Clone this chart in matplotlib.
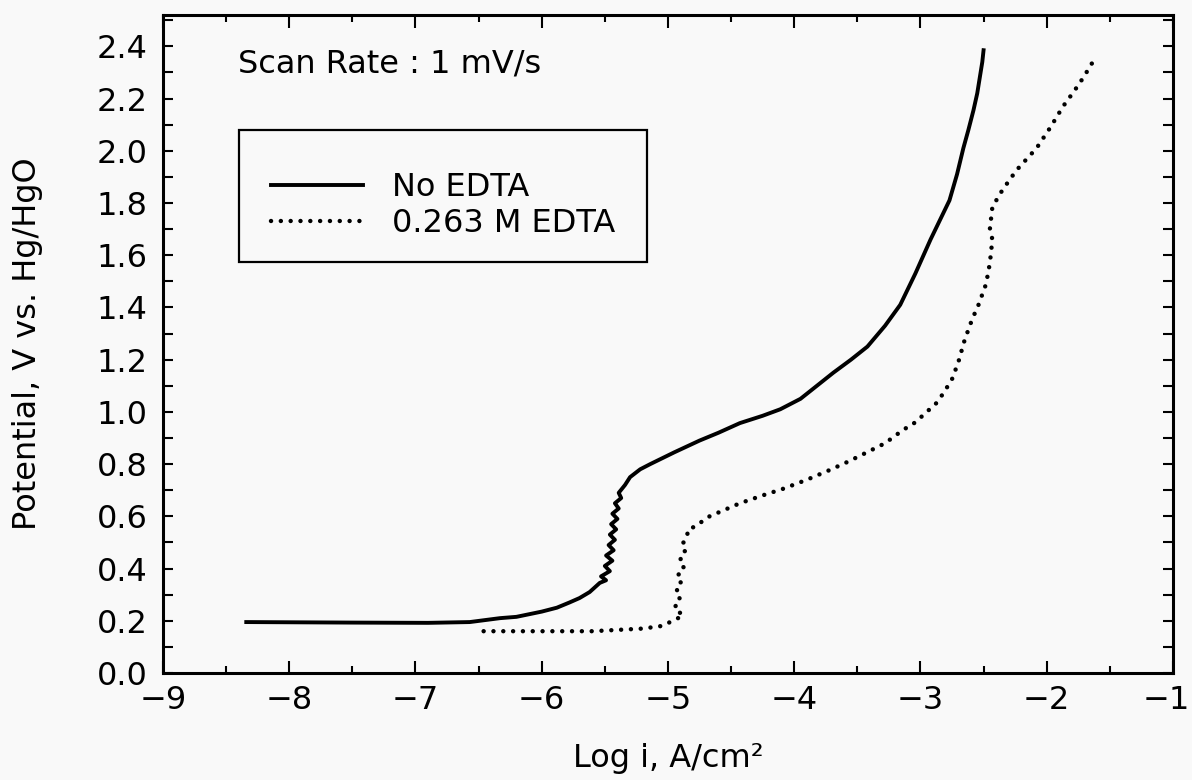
import matplotlib
matplotlib.use("Agg")
import matplotlib.pyplot as plt
from matplotlib.ticker import MultipleLocator
from matplotlib.patches import Rectangle
from matplotlib.transforms import ScaledTranslation

# polarization curves, log current density vs potential
no_edta_logi = [-8.34, -7.5, -6.9, -6.57, -6.33, -6.2, -6.0, -5.88, -5.78, -5.70,
                -5.62, -5.54, -5.49, -5.53, -5.46, -5.50, -5.44, -5.49, -5.43,
                -5.47, -5.42, -5.46, -5.41, -5.45, -5.40, -5.44, -5.39, -5.42,
                -5.37, -5.39, -5.34, -5.30,
                -5.22, -5.14, -4.95, -4.75, -4.6, -4.43, -4.25, -4.11, -3.95,
                -3.82, -3.69, -3.55, -3.42, -3.28, -3.16, -3.04, -2.92, -2.84,
                -2.77, -2.71, -2.66, -2.62, -2.58, -2.55, -2.53, -2.51, -2.50]
no_edta_v = [0.195, 0.193, 0.192, 0.195, 0.21, 0.215, 0.235, 0.25, 0.27, 0.287,
             0.31, 0.345, 0.355, 0.37, 0.39, 0.41, 0.43, 0.45, 0.47,
             0.49, 0.51, 0.53, 0.55, 0.57, 0.59, 0.61, 0.63, 0.65,
             0.67, 0.69, 0.72, 0.75,
             0.78, 0.80, 0.845, 0.89, 0.92, 0.957, 0.985, 1.01, 1.05,
             1.10, 1.15, 1.20, 1.25, 1.33, 1.41, 1.53, 1.66, 1.74,
             1.81, 1.91, 2.01, 2.08, 2.155, 2.22, 2.28, 2.34, 2.385]

edta_logi = [-6.46, -6.0, -5.6, -5.2, -5.05, -4.96, -4.88, -4.95, -4.90, -4.94,
             -4.89, -4.93, -4.87, -4.91, -4.86, -4.89, -4.85, -4.84, -4.79,
             -4.67, -4.55, -4.43, -4.25, -4.09, -3.90, -3.72, -3.57, -3.42,
             -3.28, -3.14, -3.04, -2.95, -2.88, -2.82, -2.75, -2.70, -2.65,
             -2.59, -2.54, -2.48, -2.45, -2.43, -2.45, -2.43, -2.35, -2.24,
             -2.08, -1.97, -1.87, -1.78, -1.71, -1.61]
edta_v = [0.16, 0.16, 0.16, 0.17, 0.18, 0.20, 0.22, 0.25, 0.28, 0.31,
          0.34, 0.37, 0.40, 0.43, 0.46, 0.49, 0.52, 0.55, 0.56,
          0.60, 0.625, 0.65, 0.68, 0.705, 0.74, 0.777, 0.81, 0.846,
          0.88, 0.93, 0.96, 1.0, 1.03, 1.07, 1.125, 1.19, 1.275,
          1.355, 1.41, 1.49, 1.57, 1.66, 1.70, 1.785, 1.85, 1.925,
          2.01, 2.09, 2.17, 2.23, 2.28, 2.36]

plt.rcParams['font.family'] = ['DejaVu Sans']
plt.rcParams['font.size'] = 23

bg = '#f9f9f9'
fig = plt.figure(figsize=(11.92, 7.8), dpi=100, facecolor=bg)
ax = fig.add_axes([0.1367, 0.1372, 0.8473, 0.8436])
ax.set_facecolor(bg)

ax.plot(no_edta_logi, no_edta_v, color='black', lw=2.8, label='No EDTA')
ax.plot(edta_logi, edta_v, color='black', lw=3.2, linestyle=(0, (0.01, 2.2)),
        dash_capstyle='round', label='0.263 M EDTA')

ax.set_xlim(-9, -1)
ax.set_ylim(0, 2.52)
ax.xaxis.set_major_locator(MultipleLocator(1))
ax.xaxis.set_minor_locator(MultipleLocator(0.5))
ax.yaxis.set_major_locator(MultipleLocator(0.2))
ax.yaxis.set_minor_locator(MultipleLocator(0.1))
ax.yaxis.set_major_formatter(lambda v, p: f"{v:.1f}")

ax.tick_params(which='both', direction='in', top=True, right=True, width=1.5)
ax.tick_params(axis='x', which='major', length=9, pad=9)
ax.tick_params(axis='x', which='minor', length=5)
ax.tick_params(axis='y', which='both', length=7, pad=11)
for s in ax.spines.values():
    s.set_linewidth(2.2)

ax.text(0.0743, 0.912, "Scan Rate : 1 mV/s", transform=ax.transAxes,
        va='baseline', ha='left')

# legend box drawn separately so the rows can sit where they should
ax.add_patch(Rectangle((0.0752, 0.6246), 0.404, 0.2006, transform=ax.transAxes,
                       fill=False, edgecolor='black', lw=1.6, zorder=3))
ax.legend(loc='upper left', bbox_to_anchor=(0.0752, 0.810),
          borderaxespad=0, frameon=False, handlelength=2.9,
          handletextpad=0.9, borderpad=1.0, labelspacing=0.16)

fig.text(668 / 1192, 1 - 759 / 780, "Log i, A/cm²", ha='center', va='center')
fig.text(28 / 1192, 1 - 344 / 780, "Potential, V vs. Hg/HgO", rotation=90,
         ha='center', va='center')

# nudge the rightmost x label so it stays inside the figure
fig.canvas.draw()
for tick in ax.xaxis.get_major_ticks():
    if abs(tick.get_loc() - ax.get_xlim()[1]) < 1e-9:
        lbl = tick.label1
        lbl.set_transform(lbl.get_transform() +
                          ScaledTranslation(-0.07, 0, fig.dpi_scale_trans))

fig.savefig("out.png", dpi=100, facecolor=fig.get_facecolor())
